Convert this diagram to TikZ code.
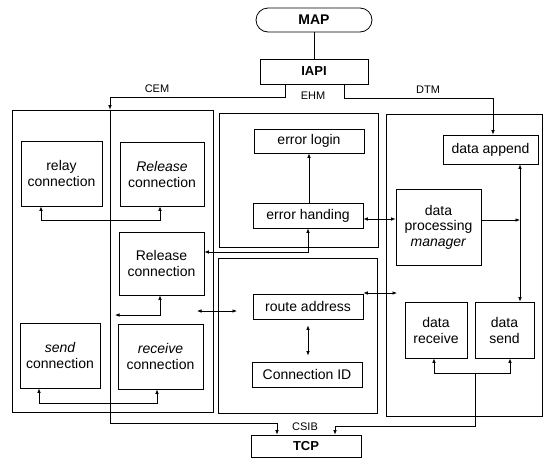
\documentclass[tikz,border=0pt]{standalone}
\usepackage{fontspec}
\setmainfont{Liberation Sans}
\usetikzlibrary{arrows.meta}
\tikzset{
  box/.style={draw, line width=0.8pt, inner sep=0pt, align=center, font=\fontsize{14}{16}\selectfont},
  frame/.style={draw, line width=0.8pt, inner sep=0pt},
  sz/.style 2 args={minimum width=#1pt, minimum height=#2pt},
  conn/.style={line width=0.7pt},
  arr/.style={line width=0.7pt, -{Latex[length=4.5pt,width=3.6pt]}},
  darr/.style={line width=0.7pt, {Latex[length=4.5pt,width=3.6pt]}-{Latex[length=4.5pt,width=3.6pt]}},
  lbl/.style={font=\fontsize{11}{13}\selectfont, inner sep=0pt},
  hdr/.style={box, font=\fontsize{13}{15}\selectfont\bfseries}
}
\begin{document}
\begin{tikzpicture}[x=1pt,y=-1pt]
\useasboundingbox (0,0) rectangle (545,461);
\fill[white] (0,0) rectangle (545,461);

% top
\node[hdr, sz={116}{24}, rounded corners=12pt, font=\fontsize{14}{16}\selectfont\bfseries] (map) at (314,20) {MAP};
\node[hdr, sz={108}{25}] (iapi) at (314,71.5) {IAPI};
\node[hdr, sz={110}{22}] (tcp) at (306,446) {TCP};

% module frames
\node[frame, sz={201}{302}] (cem) at (112.5,261) {};
\node[frame, sz={159}{134}] (ehmu) at (298.5,180) {};
\node[frame, sz={159}{155}] (ehml) at (297.5,335.5) {};
\node[frame, sz={156}{302}] (dtm) at (464,265) {};

% labels
\node[lbl] (lcem) at (157,89) {CEM};
\node[lbl] (ldtm) at (428,90) {DTM};
\node[lbl] (lehm) at (313,96) {EHM};
\node[lbl] (lcsib) at (305,427) {CSIB};

% CEM boxes
\node[box, sz={81}{65}] (relay) at (61.5,173.5) {relay\\connection};
\node[box, sz={84}{64}] (rel1) at (162,174) {\itshape Release\\connection};
\node[box, sz={85}{63}] (rel2) at (161.5,263.5) {Release\\connection};
\node[box, sz={80}{65}] (send) at (60,355.5) {\itshape send\\connection};
\node[box, sz={85}{65}] (recv) at (160.5,356.5) {\itshape receive\\connection};

% EHM boxes
\node[box, sz={110}{24}] (elog) at (309,141) {error login};
\node[box, sz={110}{25}] (ehand) at (308,215.5) {error handing};
\node[box, sz={110}{25}] (route) at (308,306.5) {route address};
\node[box, sz={110}{25}] (cid) at (307,374.5) {Connection ID};

% DTM boxes
\node[box, sz={95}{29}] (dapp) at (490.5,149.5) {data append};
\node[box, sz={85}{76}, font=\fontsize{14}{15.5}\selectfont] (dpm) at (438.5,227) {data\\processing\\\textit{manager}};
\node[box, sz={62}{56}] (drecv) at (436,330) {data\\receive};
\node[box, sz={59}{56}] (dsend) at (504.5,330) {data\\send};

% coordinates
\coordinate (cx) at (110,0);
\coordinate (lx) at (285,0);
\coordinate (rx) at (344,0);
\coordinate (ax) at (493,0);
\coordinate (vx) at (520,0);

% connectors
\draw[conn] (map.south) -- (iapi.north);
\draw[arr] (iapi.south -| lx) -- (285,97) -- (110,97) -- (cem.north -| cx);
\draw[arr] (cem.north -| cx) -- (110,423) -- (277,423) -- (tcp.north -| 277,0);
\draw[arr] (iapi.south -| rx) -- (344,98) -- (493,98) -- (dapp.north -| ax);

\draw[darr] (relay.south -| 41,0) -- (41,220) -- (160,220) -- (rel1.south -| 160,0);
\draw[darr] (send.south -| 39,0) -- (39,403) -- (157,403) -- (recv.south -| 157,0);
\draw[arr] (ehand.north -| elog.south) -- (elog.south);
\draw[darr] (rel2.east |- 0,252) -- (308,252) -- (ehand.south -| 308,0);
\coordinate (rl) at (115,315);
\draw[darr] (rl) -- (160,315) -- (rel2.south -| 160,0);
\coordinate (ha) at (197,311);
\coordinate (hb) at (237,311);
\draw[darr] (ha) -- (hb);
\draw[darr] (ehand.east |- 0,219) -- (dpm.west |- 0,219);
\coordinate (ra) at (397,293);
\draw[darr] (route.east |- ra) -- (ra);
\draw[darr, shorten <=6pt, shorten >=6pt] (route.south) -- (route.south |- cid.north);
\draw[arr] (dpm.east |- 0,220) -- (520,220);
\draw[darr] (dapp.south -| vx) -- (dsend.north -| vx);
\draw[darr] (drecv.south -| 434,0) -- (434,373) -- (510,373) -- (dsend.south -| 510,0);
\draw[arr] (475,373) -- (475,426) -- (335,426) -- (tcp.north -| 335,0);
\end{tikzpicture}
\end{document}
